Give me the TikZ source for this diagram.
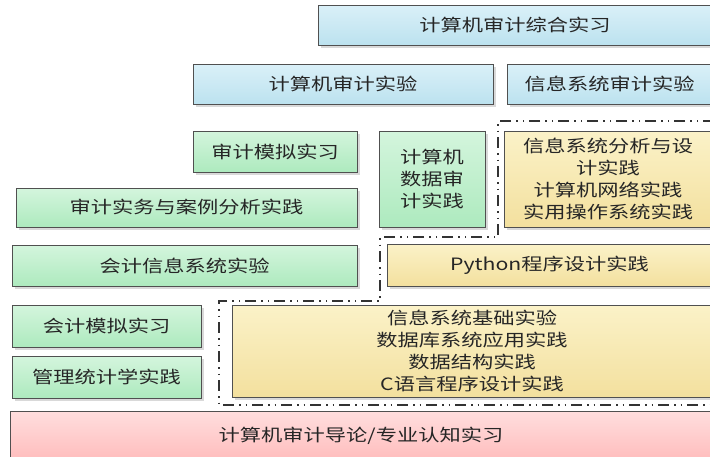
\documentclass[tikz,border=0pt]{standalone}
\usepackage{fontspec}
\newfontfamily\cjk[FakeStretch=1.25]{Noto Sans CJK SC}
\usetikzlibrary{shadows}
\definecolor{txt}{HTML}{262626}
\definecolor{edge}{HTML}{505050}
\definecolor{blueT}{HTML}{DAF0F8}
\definecolor{blueB}{HTML}{BCE2EF}
\definecolor{greenT}{HTML}{D4F5DD}
\definecolor{greenB}{HTML}{ADEABE}
\definecolor{yelT}{HTML}{FBF2C8}
\definecolor{yelB}{HTML}{F3E09E}
\definecolor{pinkT}{HTML}{FFDEDE}
\definecolor{pinkB}{HTML}{FFBDBD}
\definecolor{frame}{HTML}{333333}
\begin{document}
\begin{tikzpicture}[x=1pt,y=1pt,
  box/.style={draw=edge, line width=0.8pt, inner sep=0pt, align=center, text=txt,
    font=\cjk\fontsize{17}{21.7}\selectfont,
    drop shadow={shadow xshift=2.5pt, shadow yshift=-2.5pt, fill=black, opacity=0.15}},
  bluebox/.style={box, top color=blueT, bottom color=blueB},
  greenbox/.style={box, top color=greenT, bottom color=greenB},
  yelbox/.style={box, top color=yelT, bottom color=yelB},
  pinkbox/.style={box, top color=pinkT, bottom color=pinkB},
  stairframe/.style={draw=frame, line width=1.4pt,
    dash pattern=on 11pt off 5pt on 1.5pt off 5pt on 1.5pt off 5pt}
]
\clip (0,0) rectangle (710,-456);
% frame
\draw[stairframe] (714,-121) -- (498,-121) -- (498,-237) -- (380,-237) -- (380,-301)
  -- (219,-301) -- (219,-405) -- (714,-405);
% top rows
\node[bluebox, minimum width=394pt, minimum height=40pt] (zh) at (515,-25) {计算机审计综合实习};
\node[bluebox, minimum width=300pt, minimum height=40pt] (jsy) at (343,-84) {计算机审计实验};
\node[bluebox, minimum width=205pt, minimum height=40pt] (xsy) at (609.5,-84) {信息系统审计实验};
% green column
\node[greenbox, minimum width=164pt, minimum height=41pt] (smn) at (275,-151.5) {审计模拟实习};
\node[greenbox, minimum width=106pt, minimum height=96pt] (sjsj) at (432,-179) {计算机\\数据审\\计实践};
\node[yelbox, minimum width=208pt, minimum height=96pt] (xxfx) at (608,-179) {信息系统分析与设\\计实践\\计算机网络实践\\实用操作系统实践};
\node[greenbox, minimum width=341pt, minimum height=39pt] (swal) at (186.5,-207.5) {审计实务与案例分析实践};
\node[greenbox, minimum width=345pt, minimum height=41pt] (kjxx) at (184.5,-265.5) {会计信息系统实验};
\node[yelbox, minimum width=325pt, minimum height=42pt] (py) at (549.5,-265) {Python程序设计实践};
\node[greenbox, minimum width=189pt, minimum height=42pt] (kjmn) at (106.5,-326) {会计模拟实习};
\node[greenbox, minimum width=189pt, minimum height=42pt] (gltj) at (106.5,-377) {管理统计学实践};
\node[yelbox, minimum width=480pt, minimum height=92pt] (jc) at (472,-351) {信息系统基础实验\\数据库系统应用实践\\数据结构实践\\C语言程序设计实践};
\node[pinkbox, minimum width=702pt, minimum height=49pt] (dl) at (361,-435.5) {计算机审计导论/专业认知实习};
\end{tikzpicture}
\end{document}
